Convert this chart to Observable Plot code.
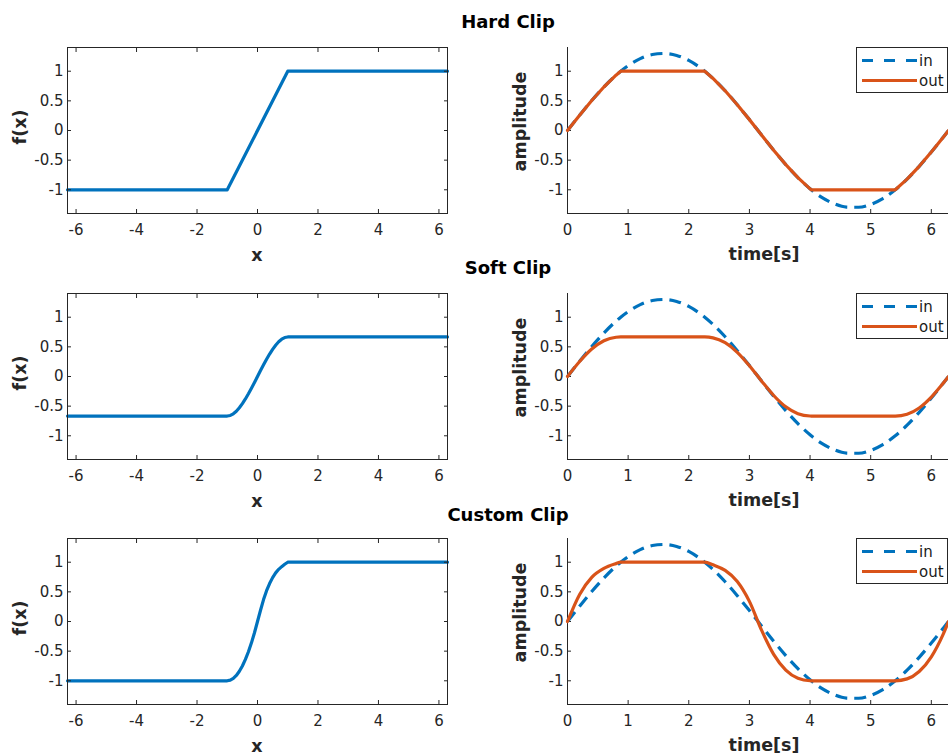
<!DOCTYPE html>
<html><head><meta charset="utf-8">
<script src="https://cdn.jsdelivr.net/npm/d3@7"></script>
<script src="https://cdn.jsdelivr.net/npm/@observablehq/plot@0.6"></script>
<style>
html,body{margin:0;padding:0;background:#fff;overflow:hidden}
#root{position:relative;width:948px;height:756px;font-family:"DejaVu Sans",sans-serif}
.panel{position:absolute}
#overlay{position:absolute;left:0;top:0}
</style></head>
<body><div id="root"></div>
<script>
// ---------- data ----------
const titles = ["Hard Clip", "Soft Clip", "Custom Clip"];
const xTicks = [-6, -4, -2, 0, 2, 4, 6];
const yTicks = [-1, -0.5, 0, 0.5, 1];
const tTicks = [0, 1, 2, 3, 4, 5, 6];
const xLim = [-6.2832, 6.2832];
const tLim = [0, 6.2832];
const yLim = [-1.4, 1.4];

// transfer functions f(x)
const hardX = [-6.2832, -1, 1, 6.2832];
const hardY = [-1, -1, 1, 1];
const softX = [-6.2832, -1, -0.9, -0.8, -0.7, -0.6, -0.5, -0.4, -0.3, -0.2, -0.1, 0, 0.1, 0.2, 0.3, 0.4, 0.5, 0.6, 0.7, 0.8, 0.9, 1, 6.2832];
const softY = [-0.6667, -0.6667, -0.657, -0.6293, -0.5857, -0.528, -0.4583, -0.3787, -0.291, -0.1973, -0.0997, 0, 0.0997, 0.1973, 0.291, 0.3787, 0.4583, 0.528, 0.5857, 0.6293, 0.657, 0.6667, 0.6667];
const customX = [-6.2832, -1, -0.9, -0.8, -0.7, -0.6, -0.5, -0.4, -0.3, -0.2, -0.1, 0, 0.1, 0.2, 0.3, 0.4, 0.5, 0.6, 0.7, 0.8, 0.9, 1, 6.2832];
const customY = [-1, -1, -0.99, -0.96, -0.91, -0.84, -0.75, -0.64, -0.51, -0.36, -0.19, 0, 0.19, 0.37, 0.52, 0.64, 0.74, 0.82, 0.88, 0.925, 0.965, 1, 1];

// time signals
const t = [0, 0.2, 0.4, 0.6, 0.8, 0.8776, 1.0, 1.2, 1.4, 1.6, 1.8, 2.0, 2.2, 2.264, 2.4, 2.6, 2.8, 3.0, 3.2, 3.4, 3.6, 3.8, 4.0, 4.0192, 4.2, 4.4, 4.6, 4.8, 5.0, 5.2, 5.4, 5.4056, 5.6, 5.8, 6.0, 6.2, 6.2832];
const inAmp = [0, 0.2583, 0.5062, 0.7340, 0.9326, 1.0, 1.0939, 1.2117, 1.2811, 1.2994, 1.2660, 1.1821, 1.0510, 1.0, 0.8781, 0.6702, 0.4355, 0.1835, -0.0759, -0.3322, -0.5753, -0.7954, -0.9838, -1.0, -1.1330, -1.2371, -1.2918, -1.2950, -1.2466, -1.1485, -1.0046, -1.0, -0.8206, -0.6040, -0.3632, -0.1080, 0];
const hardOut = [0, 0.2583, 0.5062, 0.7340, 0.9326, 1, 1, 1, 1, 1, 1, 1, 1, 1, 0.8781, 0.6702, 0.4355, 0.1835, -0.0759, -0.3322, -0.5753, -0.7954, -0.9838, -1, -1, -1, -1, -1, -1, -1, -1, -1, -0.8206, -0.6040, -0.3632, -0.1080, 0];
const softOut = [0, 0.2526, 0.4630, 0.6022, 0.6622, 0.6667, 0.6667, 0.6667, 0.6667, 0.6667, 0.6667, 0.6667, 0.6667, 0.6667, 0.6524, 0.5699, 0.4080, 0.1814, -0.0758, -0.3200, -0.5118, -0.6277, -0.6664, -0.6667, -0.6667, -0.6667, -0.6667, -0.6667, -0.6667, -0.6667, -0.6667, -0.6667, -0.6364, -0.5306, -0.3472, -0.1076, 0];
const customOut = [0, 0.457, 0.745, 0.895, 0.976, 1, 1, 1, 1, 1, 1, 1, 1, 1, 0.956, 0.862, 0.676, 0.340, -0.146, -0.554, -0.820, -0.958, -0.9997, -1, -1, -1, -1, -1, -1, -1, -1, -1, -0.968, -0.843, -0.595, -0.204, 0];

const legendLabels = ["in", "out"];

// ---------- styling / layout ----------
const BLUE = "#0072BD", ORANGE = "#D95319", AX = "#262626";
const FONT = "DejaVu Sans";
const frameTops = [47, 293, 538];
const FH = 166;
const MT = 10, MB = 40;
const fmt = d => String(d);

const transfers = [[hardX, hardY], [softX, softY], [customX, customY]];
const outs = [hardOut, softOut, customOut];
const outCurves = ["linear", "monotone-x", "monotone-x"];

const root = document.getElementById("root");
const baseStyle = {fontFamily: FONT, fontSize: "15px", color: AX, background: "transparent", overflow: "visible", maxWidth: "none"};

function place(el, left, top) {
  const d = document.createElement("div");
  d.className = "panel";
  d.style.left = left + "px";
  d.style.top = top + "px";
  d.appendChild(el);
  root.appendChild(d);
}

transfers.forEach(([xs, ys], r) => {
  const data = xs.map((x, i) => ({x, y: ys[i]}));
  const chart = Plot.plot({
    width: 474, height: MT + FH + MB,
    marginTop: MT, marginBottom: MB, marginLeft: 67, marginRight: 27,
    x: {domain: xLim}, y: {domain: yLim},
    style: baseStyle,
    marks: [
      Plot.line(data, {x: "x", y: "y", stroke: BLUE, strokeWidth: 3.2}),
      Plot.frame({stroke: AX, strokeWidth: 1}),
      Plot.axisX(xTicks, {anchor: "bottom", tickSize: -4, tickPadding: 15, tickFormat: fmt, label: null, color: AX}),
      Plot.axisX(xTicks, {anchor: "top", tickSize: -4, tickFormat: () => "", label: null, color: AX}),
      Plot.axisY(yTicks, {anchor: "left", tickSize: -4, tickPadding: 8, tickFormat: fmt, label: null, color: AX}),
      Plot.axisY(yTicks, {anchor: "right", tickSize: -4, tickFormat: () => "", label: null, color: AX})
    ]
  });
  place(chart, 0, frameTops[r] - MT);
});

outs.forEach((out, r) => {
  const inData = t.map((v, i) => ({t: v, y: inAmp[i]}));
  const outData = t.map((v, i) => ({t: v, y: out[i]}));
  const chart = Plot.plot({
    width: 474, height: MT + FH + MB,
    marginTop: MT, marginBottom: MB, marginLeft: 93, marginRight: 0,
    x: {domain: tLim}, y: {domain: yLim},
    style: baseStyle,
    marks: [
      Plot.ruleX([tLim[0]], {stroke: AX, strokeWidth: 1}),
      Plot.ruleY([yLim[0]], {stroke: AX, strokeWidth: 1}),
      Plot.axisX(tTicks, {anchor: "bottom", tickSize: -4, tickPadding: 15, tickFormat: fmt, label: null, color: AX}),
      Plot.axisY(yTicks, {anchor: "left", tickSize: -4, tickPadding: 8, tickFormat: fmt, label: null, color: AX}),
      Plot.line(inData, {x: "t", y: "y", stroke: BLUE, strokeWidth: 3.2, strokeDasharray: "12,7", strokeLinecap: "butt", curve: "monotone-x"}),
      Plot.line(outData, {x: "t", y: "y", stroke: ORANGE, strokeWidth: 3.2, curve: outCurves[r]})
    ]
  });
  place(chart, 474, frameTops[r] - MT);
});

// ---------- overlay: titles, axis labels, legends ----------
const svg = d3.select(root).append("svg").attr("id", "overlay")
  .attr("width", 948).attr("height", 756)
  .style("font-family", FONT);

const titleBase = [27.5, 274, 520.5];
titles.forEach((s, r) => {
  svg.append("text").attr("x", 508).attr("y", titleBase[r])
    .attr("text-anchor", "middle").attr("font-weight", "bold").attr("font-size", 18)
    .attr("fill", "#000").text(s);
});

frameTops.forEach((top, r) => {
  const bottom = top + FH;
  const mid = top + FH / 2;
  svg.append("text").attr("x", 257).attr("y", bottom + 48)
    .attr("text-anchor", "middle").attr("font-weight", "bold").attr("font-size", 17.5)
    .attr("fill", AX).text("x");
  svg.append("text").attr("x", 764).attr("y", bottom + 47)
    .attr("text-anchor", "middle").attr("font-weight", "bold").attr("font-size", 17.5)
    .attr("fill", AX).text("time[s]");
  svg.append("text").attr("transform", `translate(26,${mid - 3}) rotate(-90)`)
    .attr("text-anchor", "middle").attr("font-weight", "bold").attr("font-size", 17.5)
    .attr("fill", AX).text("f(x)");
  svg.append("text").attr("transform", `translate(526,${mid - 8.5}) rotate(-90)`)
    .attr("text-anchor", "middle").attr("font-weight", "bold").attr("font-size", 17.5)
    .attr("fill", AX).text("amplitude");

  // legend
  const g = svg.append("g");
  g.append("rect").attr("x", 856.5).attr("y", top + 0.5).attr("width", 91).attr("height", 45)
    .attr("fill", "#fff").attr("stroke", AX).attr("stroke-width", 1);
  const rowsY = [top + 13.5, top + 33.5];
  const cols = [BLUE, ORANGE];
  legendLabels.forEach((lab, i) => {
    const ln = g.append("line").attr("x1", 862).attr("x2", 917).attr("y1", rowsY[i]).attr("y2", rowsY[i])
      .attr("stroke", cols[i]).attr("stroke-width", 3.2);
    if (i === 0) ln.attr("stroke-dasharray", "11,11");
    g.append("text").attr("x", 919).attr("y", rowsY[i] + 5.5).attr("font-size", 15)
      .attr("fill", "#1a1a1a").text(lab);
  });
});
</script>
</body></html>
